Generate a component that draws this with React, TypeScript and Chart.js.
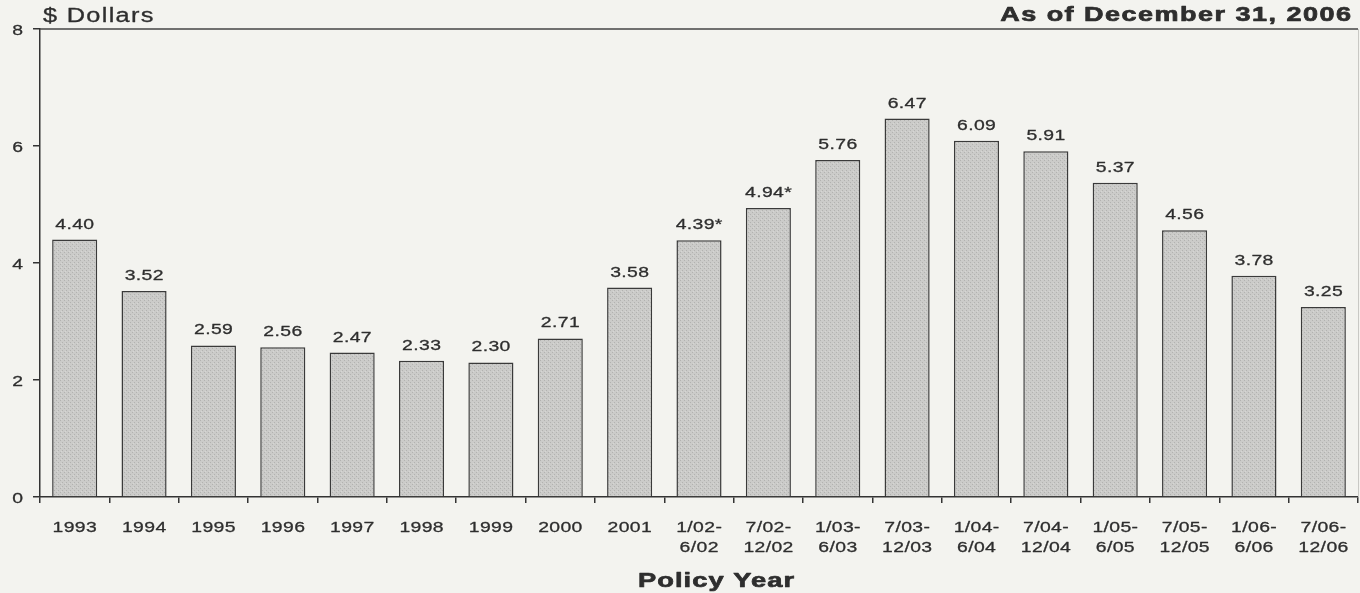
import React, { useEffect, useRef } from "react";
import { Chart, registerables } from "chart.js";

Chart.register(...registerables);

const categories: (string | string[])[] = [
  "1993", "1994", "1995", "1996", "1997", "1998", "1999", "2000", "2001",
  ["1/02-", "6/02"], ["7/02-", "12/02"], ["1/03-", "6/03"], ["7/03-", "12/03"],
  ["1/04-", "6/04"], ["7/04-", "12/04"], ["1/05-", "6/05"], ["7/05-", "12/05"],
  ["1/06-", "6/06"], ["7/06-", "12/06"],
];
const values: number[] = [
  4.40, 3.52, 2.59, 2.56, 2.47, 2.33, 2.30, 2.71, 3.58, 4.39, 4.94, 5.76, 6.47,
  6.09, 5.91, 5.37, 4.56, 3.78, 3.25,
];
const valueLabels: string[] = [
  "4.40", "3.52", "2.59", "2.56", "2.47", "2.33", "2.30", "2.71", "3.58",
  "4.39*", "4.94*", "5.76", "6.47", "6.09", "5.91", "5.37", "4.56", "3.78", "3.25",
];
const yTicks: number[] = [0, 2, 4, 6, 8];
const yAxisLabel = "$ Dollars";
const headerRight = "As of December 31, 2006";
const xAxisTitle = "Policy Year";

const FONT = "'Liberation Sans', Arial, Helvetica, sans-serif";
const TEXT = "#2e2e2e";
const SX = 1.25;

function drawStretched(
  ctx: CanvasRenderingContext2D,
  text: string,
  x: number,
  y: number,
  font: string,
  align: "left" | "center" | "right",
  sx: number,
  spacing: number,
  stroke = 0
) {
  ctx.save();
  ctx.font = font;
  (ctx as any).letterSpacing = `${spacing}px`;
  ctx.textAlign = "left";
  ctx.textBaseline = "alphabetic";
  const w = (ctx.measureText(text).width - spacing) * sx;
  const left = align === "left" ? x : align === "right" ? x - w : x - w / 2;
  ctx.translate(left, y);
  ctx.scale(sx, 1);
  ctx.fillText(text, 0, 0);
  if (stroke > 0) {
    ctx.strokeStyle = ctx.fillStyle as string;
    ctx.lineWidth = stroke;
    ctx.lineJoin = "round";
    ctx.strokeText(text, 0, 0);
  }
  ctx.restore();
}

const overlayPlugin = {
  id: "overlay",
  afterDatasetsDraw(chart: any) {
    const ctx: CanvasRenderingContext2D = chart.ctx;
    const area = chart.chartArea;
    ctx.save();
    // top frame line
    ctx.strokeStyle = "#444444";
    ctx.lineWidth = 1.5;
    ctx.beginPath();
    ctx.moveTo(area.left, area.top);
    ctx.lineTo(area.right, area.top);
    ctx.stroke();
    // faint right border
    ctx.strokeStyle = "#c8c8c4";
    ctx.lineWidth = 1;
    ctx.beginPath();
    ctx.moveTo(area.right + 0.5, area.top);
    ctx.lineTo(area.right + 0.5, area.bottom);
    ctx.stroke();

    ctx.fillStyle = TEXT;
    const regular = `15.5px ${FONT}`;

    // value labels
    const meta = chart.getDatasetMeta(0);
    meta.data.forEach((bar: any, i: number) => {
      drawStretched(ctx, valueLabels[i], bar.x, bar.y - 11, regular, "center", SX, 0.3, 0.3);
    });

    // x tick labels
    const xs = chart.scales.x;
    categories.forEach((c, i) => {
      const px = xs.getPixelForTick(i);
      const lines = Array.isArray(c) ? c : [c];
      lines.forEach((ln, j) => {
        drawStretched(ctx, ln, px, 531.5 + j * 20, regular, "center", SX, 0.3, 0.3);
      });
    });

    // y tick labels
    const ys = chart.scales.y;
    yTicks.forEach((v) => {
      drawStretched(ctx, String(v), 23, ys.getPixelForValue(v) + 5.5, regular, "right", SX, 0, 0.3);
    });

    // header texts
    drawStretched(ctx, yAxisLabel, 43, 22, `19.5px ${FONT}`, "left", 1.3, 1, 0.3);
    drawStretched(ctx, headerRight, 1351, 21, `bold 20px ${FONT}`, "right", 1.35, 1.1, 0.7);

    // x-axis title
    drawStretched(ctx, xAxisTitle, 716, 587, `bold 21px ${FONT}`, "center", 1.3, 0.8, 0.7);
    ctx.restore();
  },
};

function makePattern(): CanvasPattern | string {
  const c = document.createElement("canvas");
  c.width = 4;
  c.height = 4;
  const g = c.getContext("2d");
  if (!g) return "#c6c6c4";
  g.fillStyle = "#cbcbc9";
  g.fillRect(0, 0, 4, 4);
  g.fillStyle = "#b2b2b0";
  g.fillRect(0, 0, 1, 1);
  g.fillRect(2, 2, 1, 1);
  g.fillStyle = "#d6d6d4";
  g.fillRect(1, 3, 1, 1);
  const p = g.createPattern(c, "repeat");
  return p || "#c6c6c4";
}

export default function App() {
  const ref = useRef<HTMLCanvasElement>(null);

  useEffect(() => {
    if (!ref.current) return;
    const chart = new Chart(ref.current, {
      type: "bar",
      data: {
        labels: categories as any,
        datasets: [
          {
            data: values,
            backgroundColor: makePattern() as any,
            borderColor: "#3a3a3a",
            borderWidth: 1.5,
            borderSkipped: "bottom",
            categoryPercentage: 1,
            barPercentage: 0.65,
          },
        ],
      },
      options: {
        animation: false,
        responsive: false,
        layout: { padding: { top: 29, right: 2, left: 0, bottom: 0 } },
        plugins: {
          legend: { display: false },
          tooltip: { enabled: false },
          title: { display: false },
        },
        scales: {
          x: {
            grid: {
              display: true,
              offset: true,
              drawOnChartArea: false,
              drawTicks: true,
              tickLength: 6,
              color: "#333333",
              lineWidth: 1.5,
            },
            border: { display: true, color: "#333333", width: 1.5 },
            ticks: {
              color: "rgba(0,0,0,0)",
              font: { family: FONT, size: 15, lineHeight: 1.35 },
              padding: 8,
              maxRotation: 0,
              autoSkip: false,
            },
            afterFit(scale: any) {
              scale.height = 96;
            },
          },
          y: {
            min: 0,
            max: 8,
            afterBuildTicks(scale: any) {
              scale.ticks = yTicks.map((v) => ({ value: v }));
            },
            grid: {
              display: true,
              drawOnChartArea: false,
              drawTicks: true,
              tickLength: 7,
              color: "#333333",
              lineWidth: 1.5,
            },
            border: { display: true, color: "#333333", width: 1.5 },
            ticks: {
              color: "rgba(0,0,0,0)",
              font: { family: FONT, size: 15 },
              padding: 11,
            },
            afterFit(scale: any) {
              scale.width = 40;
            },
          },
        },
      },
      plugins: [overlayPlugin],
    });
    return () => chart.destroy();
  }, []);

  return (
    <div
      style={{
        position: "absolute",
        left: 0,
        top: 0,
        width: 1360,
        height: 593,
        background: "#f3f3ef",
      }}
    >
      <canvas ref={ref} width={1360} height={593} />
    </div>
  );
}
